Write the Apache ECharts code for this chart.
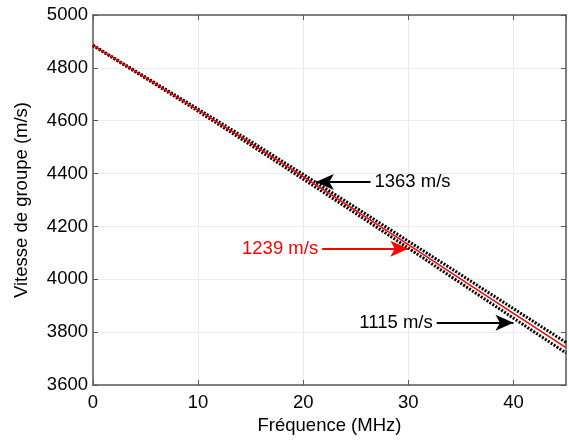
<!DOCTYPE html>
<html>
<head>
<meta charset="utf-8">
<script src="https://cdn.jsdelivr.net/npm/echarts@6/dist/echarts.min.js"></script>
<style>html,body{margin:0;padding:0;background:#fff;}#c{width:569px;height:441px;}</style>
</head>
<body>
<div id="c"></div>
<script>
const freq = [0, 5, 10, 15, 20, 25, 30, 35, 40, 45];
const v1239 = [4885, 4763, 4640, 4515, 4388, 4260, 4131, 4001, 3871, 3741];
const v1363 = [4885, 4765, 4644, 4522, 4397, 4271, 4144, 4017, 3889, 3761];
const v1115 = [4885, 4761, 4636, 4508, 4379, 4249, 4118, 3985, 3853, 3721];
const xTicks = [0, 10, 20, 30, 40];
const yTicks = [3600, 3800, 4000, 4200, 4400, 4600, 4800, 5000];
// annotations: [label, tailX, tipX, y, color]
const annot1363 = ['1363 m/s', 26.4, 21.2, 4368, '#000'];
const annot1239 = ['1239 m/s', 21.8, 30.0, 4116, '#ff0000'];
const annot1115 = ['1115 m/s', 32.7, 40.0, 3836, '#000'];

const font = 'Liberation Sans, Arial, sans-serif';
const fs = 18.5;
const pair = (xs, ys) => xs.map((x, i) => [x, ys[i]]);

function arrow(a) {
  return {
    silent: true,
    symbol: ['none', 'arrow'],
    symbolSize: [12, 18],
    animation: false,
    lineStyle: { color: a[4], width: 2, type: 'solid' },
    label: { show: true, position: 'start', formatter: a[0], color: a[4], fontSize: fs, fontFamily: font, distance: 4 },
    data: [[{ coord: [a[1], a[3]] }, { coord: [a[2], a[3]] }]]
  };
}

const chart = echarts.init(document.getElementById('c'));
const axisLineStyle = { color: '#595959', width: 1.5 };
chart.setOption({
  animation: false,
  backgroundColor: '#fff',
  grid: { left: 93, right: 3, top: 15, bottom: 56, containLabel: false },
  xAxis: [{
    type: 'value', min: 0, max: 45, interval: 10, position: 'bottom',
    name: 'Fréquence (MHz)', nameLocation: 'middle', nameGap: 31,
    nameTextStyle: { fontSize: fs, fontFamily: font, color: '#000' },
    axisLine: { show: true, onZero: false, lineStyle: axisLineStyle },
    axisTick: { show: true, inside: true, length: 5, lineStyle: { color: '#595959' } },
    axisLabel: { fontSize: fs, fontFamily: font, color: '#000', margin: 8, showMaxLabel: false,
      formatter: v => xTicks.includes(v) ? String(v) : '' },
    splitLine: { show: true, lineStyle: { color: '#ebebeb', width: 1 } }
  }, {
    type: 'value', min: 0, max: 45, interval: 10, position: 'top',
    axisLine: { show: true, onZero: false, lineStyle: axisLineStyle },
    axisTick: { show: true, inside: true, length: 5, lineStyle: { color: '#595959' } },
    axisLabel: { show: false }, splitLine: { show: false }
  }],
  yAxis: [{
    type: 'value', min: 3600, max: 5000, interval: 200, position: 'left',
    name: 'Vitesse de groupe (m/s)', nameLocation: 'middle', nameGap: 62,
    nameTextStyle: { fontSize: fs, fontFamily: font, color: '#000' },
    axisLine: { show: true, onZero: false, lineStyle: axisLineStyle },
    axisTick: { show: true, inside: true, length: 5, lineStyle: { color: '#595959' } },
    axisLabel: { fontSize: fs, fontFamily: font, color: '#000', margin: 5,
      formatter: v => yTicks.includes(v) ? String(v) : '' },
    splitLine: { show: true, lineStyle: { color: '#ebebeb', width: 1 } }
  }, {
    type: 'value', min: 3600, max: 5000, interval: 200, position: 'right',
    axisLine: { show: true, onZero: false, lineStyle: axisLineStyle },
    axisTick: { show: true, inside: true, length: 5, lineStyle: { color: '#595959' } },
    axisLabel: { show: false }, splitLine: { show: false }
  }],
  series: [
    { type: 'line', name: '1363', data: pair(freq, v1363), showSymbol: false, smooth: false,
      lineStyle: { color: '#000', width: 3, type: [2, 1.5] }, z: 3, markLine: arrow(annot1363) },
    { type: 'line', name: '1115', data: pair(freq, v1115), showSymbol: false, smooth: false,
      lineStyle: { color: '#000', width: 3, type: [2, 1.5] }, z: 3, markLine: arrow(annot1115) },
    { type: 'line', name: '1239', data: pair(freq, v1239), showSymbol: false, smooth: false,
      lineStyle: { color: '#ff0000', width: 1.5 }, z: 4, markLine: arrow(annot1239) }
  ]
});
</script>
</body>
</html>
